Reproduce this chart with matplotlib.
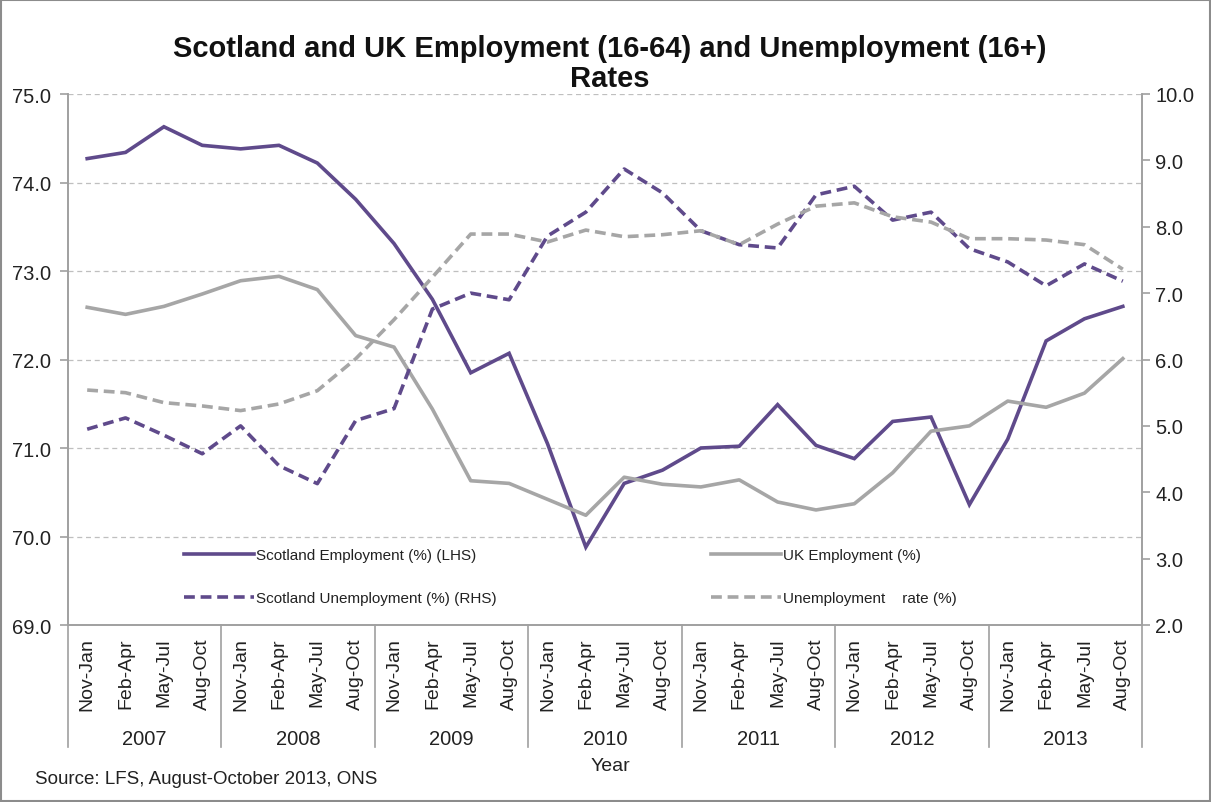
import numpy as np
import matplotlib.pyplot as plt
from matplotlib.lines import Line2D
from matplotlib.patches import Rectangle

plt.rcParams['font.family'] = ['Liberation Sans', 'DejaVu Sans']

# ---------- Data ---------- #
years = ['2007', '2008', '2009', '2010', '2011', '2012', '2013']
quarters = ['Nov-Jan', 'Feb-Apr', 'May-Jul', 'Aug-Oct']

scot_emp = [74.27, 74.34, 74.63, 74.42, 74.38, 74.42, 74.22, 73.81,
            73.31, 72.68, 71.85, 72.07, 71.05, 69.88, 70.60, 70.75,
            71.00, 71.02, 71.49, 71.03, 70.88, 71.30, 71.35, 70.36,
            71.10, 72.21, 72.46, 72.60]
uk_emp = [72.59, 72.51, 72.60, 72.74, 72.89, 72.94, 72.79, 72.27,
          72.14, 71.44, 70.63, 70.60, 70.42, 70.24, 70.67, 70.59,
          70.56, 70.64, 70.39, 70.30, 70.37, 70.72, 71.19, 71.25,
          71.53, 71.46, 71.62, 72.01]
scot_unemp = [4.95, 5.12, 4.86, 4.58, 5.00, 4.40, 4.13, 5.08,
              5.26, 6.76, 7.00, 6.90, 7.86, 8.22, 8.87, 8.51,
              7.94, 7.73, 7.68, 8.48, 8.61, 8.10, 8.22, 7.67,
              7.47, 7.11, 7.44, 7.18]
uk_unemp = [5.54, 5.50, 5.35, 5.30, 5.23, 5.33, 5.53, 6.01,
            6.60, 7.24, 7.89, 7.89, 7.77, 7.95, 7.85, 7.88,
            7.94, 7.73, 8.04, 8.31, 8.36, 8.15, 8.07, 7.82,
            7.82, 7.80, 7.73, 7.36]

purple = '#5F4A8B'
grey = '#A6A6A6'
axis_grey = '#A0A0A0'

x = np.arange(len(years) * len(quarters))

fig = plt.figure(figsize=(12.11, 8.03), dpi=100)
ax = fig.add_axes([68 / 1211, 1 - 626 / 803, (1142 - 68) / 1211, (626 - 95) / 803])
ax2 = ax.twinx()

# ---------- Lines ---------- #
lw = 2.6
dash = (3, 1.6)
ax.plot(x, scot_emp, color=purple, lw=lw, solid_joinstyle='miter')
ax.plot(x, uk_emp, color=grey, lw=lw)
ax2.plot(x, scot_unemp, color=purple, lw=lw, dashes=dash)
ax2.plot(x, uk_unemp, color=grey, lw=lw, dashes=dash)

# ---------- Axes ---------- #
ax.set_xlim(-0.5, len(x) - 0.5)
ax.set_ylim(69, 75)
ax2.set_ylim(2, 10)
ax.set_yticks(np.arange(69, 75.01, 1))
ax2.set_yticks(np.arange(2, 10.01, 1))
ax.set_yticklabels([f'{v:.1f}' for v in np.arange(69, 75.01, 1)])
ax2.set_yticklabels([f'{v:.1f}' for v in np.arange(2, 10.01, 1)])
ax.yaxis.grid(True, color='#BFBFBF', linestyle=(0, (4, 3)), lw=0.9)
ax.set_axisbelow(True)

for a in (ax, ax2):
    a.spines['top'].set_visible(False)
    for s in ('left', 'right', 'bottom'):
        a.spines[s].set_color(axis_grey)
        a.spines[s].set_linewidth(1.2)
    a.tick_params(axis='y', colors=axis_grey, labelcolor='#222222',
                  labelsize=14.5, length=6, width=1.2)
ax.tick_params(axis='y', pad=6)

ax.set_xticks(x)
ax.set_xticklabels(quarters * len(years), rotation=90, fontsize=14, color='#222222')
ax.tick_params(axis='x', length=0, pad=9)

# year separators and group labels under the quarter labels
trans = ax.get_xaxis_transform()
for k in range(len(years) + 1):
    ax.plot([k * 4 - 0.5] * 2, [0, -0.23], transform=trans, color=axis_grey,
            lw=1.2, clip_on=False)
for k, yr in enumerate(years):
    ax.text(k * 4 + 1.5, -0.213, yr, transform=trans, ha='center', va='center',
            fontsize=14.5, color='#222222')

fig.text(610 / 1211, 1 - 767 / 803, 'Year', ha='center', va='center',
         fontsize=14, color='#222222')
fig.text(35 / 1211, 1 - 780 / 803, 'Source: LFS, August-October 2013, ONS',
         ha='left', va='center', fontsize=13.5, color='#222222')

fig.text(610 / 1211, 1 - 64 / 803,
         'Scotland and UK Employment (16-64) and Unemployment (16+)\nRates',
         ha='center', va='center', fontsize=21, fontweight='bold',
         linespacing=1.1, color='#111111')

# ---------- Legend ---------- #
h_se = Line2D([], [], color=purple, lw=lw)
h_su = Line2D([], [], color=purple, lw=lw, dashes=dash)
h_ue = Line2D([], [], color=grey, lw=lw)
h_uu = Line2D([], [], color=grey, lw=lw, dashes=dash)
leg_kw = dict(frameon=False, fontsize=11, handlelength=4.6, handletextpad=0.1,
              labelspacing=1.9, loc='upper left', borderaxespad=0,
              labelcolor='#222222')
fig.legend([h_se, h_su],
           ['Scotland Employment (%) (LHS)', 'Scotland Unemployment (%) (RHS)'],
           bbox_to_anchor=(178 / 1211, 1 - 543 / 803), **leg_kw)
fig.legend([h_ue, h_uu], ['UK Employment (%)', 'Unemployment    rate (%)'],
           bbox_to_anchor=(705 / 1211, 1 - 543 / 803), **leg_kw)

# outer chart border
fig.add_artist(Rectangle((0.001, 0.001), 0.998, 0.998, transform=fig.transFigure,
                         fill=False, edgecolor='#8C8C8C', lw=1.5))

fig.savefig('out.png', dpi=100)
